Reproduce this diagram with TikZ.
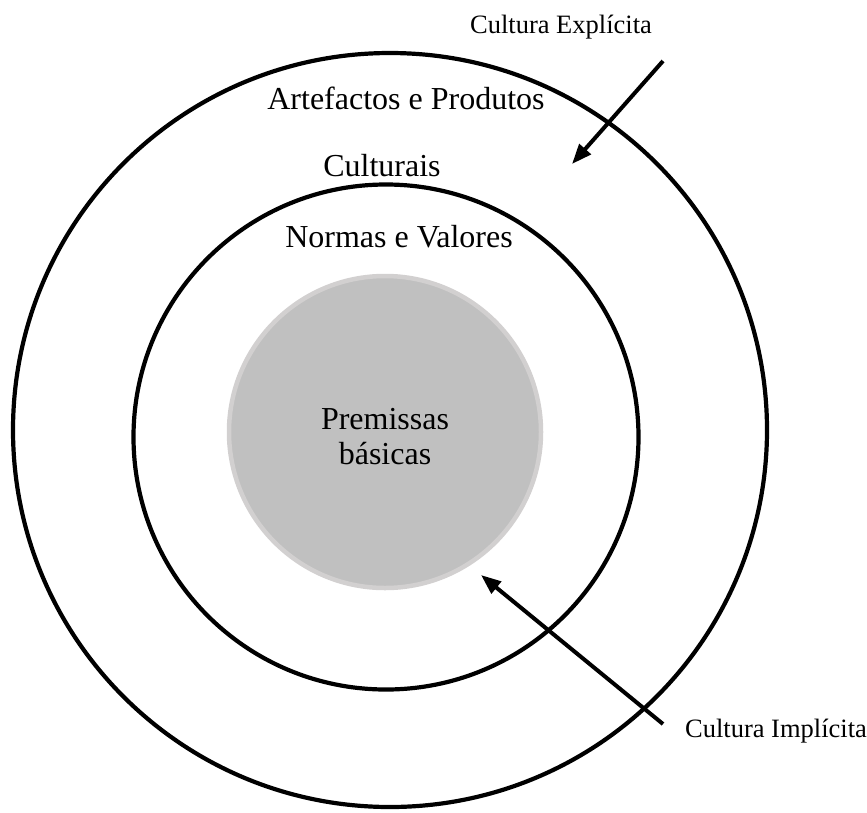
\documentclass[tikz,border=0pt]{standalone}
\usepackage{fontspec}
\setmainfont{Liberation Serif}
\usetikzlibrary{arrows.meta}
\definecolor{coregray}{HTML}{C0C0C0}
\definecolor{coreedge}{HTML}{D2D0D0}
\begin{document}
\begin{tikzpicture}[x=1pt,y=-1pt,
  ring/.style={draw=black,line width=4.2pt},
  bigtxt/.style={font=\fontsize{32}{36}\selectfont,inner sep=0pt},
  smalltxt/.style={font=\fontsize{26.5}{30}\selectfont,inner sep=0pt},
  pointer/.style={line width=4pt,-{Triangle[length=20pt,width=15pt]}}]
\useasboundingbox (0,0) rectangle (867,812);
\node[circle,ring,minimum size=754pt,inner sep=0pt] (outer) at (390,430) {};
\node[circle,ring,minimum size=505pt,inner sep=0pt] (middle) at (386,437) {};
\node[circle,fill=coregray,draw=coreedge,line width=4.5pt,minimum size=312pt,inner sep=0pt] (core) at (385,432) {};
\node[bigtxt,align=center,font=\fontsize{32}{35}\selectfont] (premissas) at (385,437) {Premissas\\básicas};
\node[bigtxt] (artefactos) at (406,98) {Artefactos e Produtos};
\node[bigtxt] (culturais) at (382,166) {Culturais};
\node[bigtxt] (normas) at (399,237) {Normas e Valores};
\node[smalltxt] (explicita) at (561,27) {Cultura Explícita};
\node[smalltxt] (implicita) at (776,731) {Cultura Implícita};
\coordinate (exptail) at (663,61);
\coordinate (exphead) at (572,164);
\coordinate (imptail) at (663,724);
\coordinate (imphead) at (481,575);
\draw[pointer] (exptail) -- (exphead);
\draw[pointer] (imptail) -- (imphead);
\end{tikzpicture}
\end{document}
